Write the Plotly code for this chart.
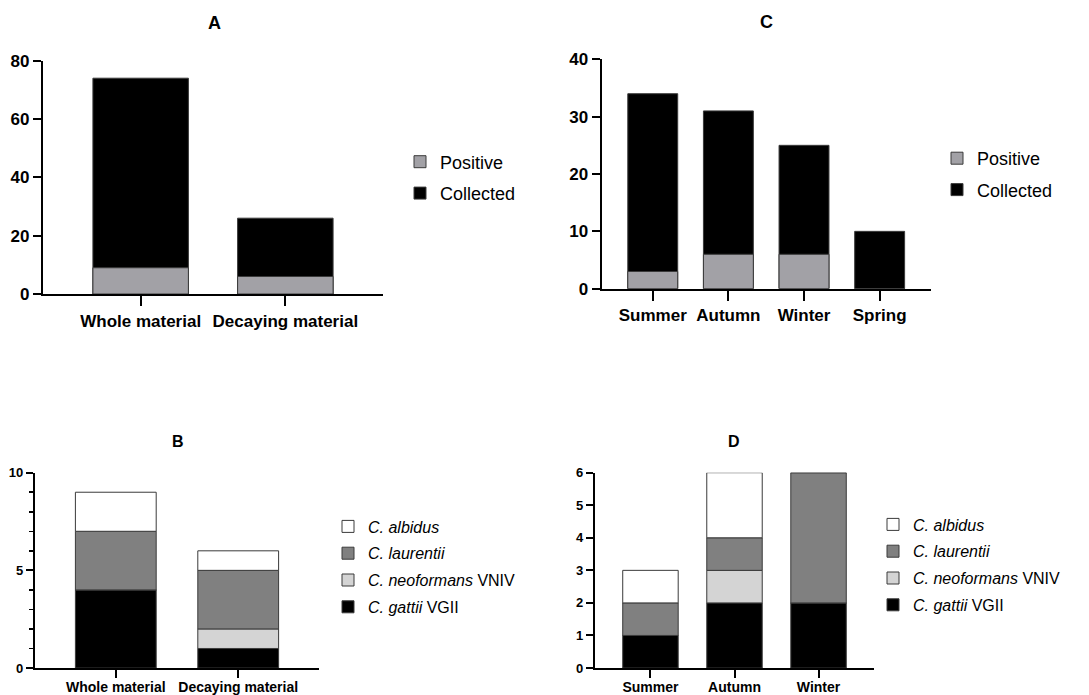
import numpy as np
import plotly.graph_objects as go

W, H = 1089, 695

# ---------- data ----------
material_cats = ["Whole material", "Decaying material"]
material_collected = [74, 26]
material_positive = [9, 6]

season_cats = ["Summer", "Autumn", "Winter", "Spring"]
season_collected = [34, 31, 25, 10]
season_positive = [3, 6, 6, 0]

species_keys = ["gattii", "neoformans", "laurentii", "albidus"]
species_names = ["<i>C. gattii</i> VGII", "<i>C. neoformans</i> VNIV",
                 "<i>C. laurentii</i>", "<i>C. albidus</i>"]
species_colors = ["#000000", "#d4d4d4", "#808080", "#ffffff"]

material_species = {
    "gattii": [4, 1],
    "neoformans": [0, 1],
    "laurentii": [3, 3],
    "albidus": [2, 1],
}
season_species_cats = ["Summer", "Autumn", "Winter"]
season_species = {
    "gattii": [1, 2, 2],
    "neoformans": [0, 1, 0],
    "laurentii": [1, 1, 4],
    "albidus": [1, 2, 0],
}

FONT = "Liberation Sans, Arial, sans-serif"
POS_COLOR = "#a2a1a6"
EDGE = "#3a3a3a"

fig = go.Figure()

# ---------- panel A ----------
fig.add_trace(go.Bar(x=material_cats, y=material_collected, name="Collected",
                     marker=dict(color="#000000", line=dict(color=EDGE, width=1)),
                     width=0.66, xaxis="x", yaxis="y", legend="legend",
                     legendgroup="a1", legendrank=2))
fig.add_trace(go.Bar(x=material_cats, y=material_positive, name="Positive",
                     marker=dict(color=POS_COLOR, line=dict(color=EDGE, width=1)),
                     width=0.66, xaxis="x", yaxis="y", legend="legend",
                     legendgroup="a2", legendrank=1))

# ---------- panel C ----------
fig.add_trace(go.Bar(x=season_cats, y=season_collected, name="Collected",
                     marker=dict(color="#000000", line=dict(color=EDGE, width=1)),
                     width=0.66, xaxis="x2", yaxis="y2", legend="legend2",
                     legendgroup="c1", legendrank=2))
fig.add_trace(go.Bar(x=season_cats, y=season_positive, name="Positive",
                     marker=dict(color=POS_COLOR, line=dict(color=EDGE, width=1)),
                     width=0.66, xaxis="x2", yaxis="y2", legend="legend2",
                     legendgroup="c2", legendrank=1))

# ---------- stacked panels B and D ----------
def add_stack(cats, data, xa, ya, leg, prefix):
    base = np.zeros(len(cats))
    n = len(species_keys)
    for i, k in enumerate(species_keys):
        vals = np.array(data[k], dtype=float)
        fig.add_trace(go.Bar(x=cats, y=vals, base=base.copy(), name=species_names[i],
                             marker=dict(color=species_colors[i],
                                         line=dict(color=EDGE, width=1)),
                             width=0.66, xaxis=xa, yaxis=ya, legend=leg,
                             legendgroup=prefix + k, legendrank=n - i))
        base = base + vals

add_stack(material_cats, material_species, "x3", "y3", "legend3", "b")
add_stack(season_species_cats, season_species, "x4", "y4", "legend4", "d")


def fx(p):
    return p / W


def fy(p):
    return 1 - p / H


def px_x(a, b):
    return [fx(a), fx(b)]


def px_y(top, bottom):
    return [fy(bottom), fy(top)]


axis_common = dict(showline=True, linecolor="#000000", linewidth=2.2,
                   ticks="outside", tickwidth=2, tickcolor="#000000",
                   showgrid=False, zeroline=False, fixedrange=True,
                   automargin=False)


def xaxis(domain, anchor, rng, size, tlen, standoff=0):
    return dict(axis_common, domain=domain, anchor=anchor, range=rng, ticklen=tlen,
                ticklabelstandoff=standoff,
                tickfont=dict(family=FONT, size=size, color="#000000", weight="bold"))


def yaxis(domain, anchor, rng, dtick, size, tlen, minor=None):
    d = dict(axis_common, domain=domain, anchor=anchor, range=rng, dtick=dtick,
             ticklen=tlen, tick0=0,
             tickfont=dict(family=FONT, size=size, color="#000000", weight="bold"))
    if minor:
        d["minor"] = minor
    return d


def legend(x, y, size, gap):
    return dict(x=fx(x), y=fy(y), xanchor="left", yanchor="middle",
                traceorder="grouped", tracegroupgap=gap,
                bgcolor="rgba(0,0,0,0)",
                font=dict(family=FONT, size=size, color="#000000"))


fig.update_layout(
    width=W, height=H,
    margin=dict(l=0, r=0, t=0, b=0, autoexpand=False),
    paper_bgcolor="#ffffff", plot_bgcolor="#ffffff",
    barmode="overlay",
    font=dict(family=FONT, color="#000000"),
    xaxis=xaxis(px_x(43, 383), "y", [-0.675, 1.675], 17, 10),
    yaxis=yaxis(px_y(60.7, 294), "x", [0, 80], 20, 17, 8),
    xaxis2=xaxis(px_x(601.7, 930.7), "y2", [-0.675, 3.675], 17, 10),
    yaxis2=yaxis(px_y(59.3, 288.7), "x2", [0, 40], 10, 17, 8),
    xaxis3=xaxis(px_x(35, 319), "y3", [-0.66, 1.66], 14, 8, -3),
    yaxis3=yaxis(px_y(472.7, 668), "x3", [0, 10], 5, 13, 7,
                 minor=dict(dtick=1, ticks="outside", ticklen=4, tickwidth=1.5,
                            tickcolor="#000000")),
    xaxis4=xaxis(px_x(595, 874), "y4", [-0.66, 2.66], 14, 8, -3),
    yaxis4=yaxis(px_y(472.7, 668), "x4", [0, 6], 1, 13, 7),
    legend=legend(400, 177.5, 18, 5),
    legend2=legend(937, 174, 18, 5),
    legend3=legend(328, 567, 16, 3),
    legend4=legend(873, 565, 16, 3),
)

titles = [("A", 214, 23, 18), ("C", 766, 22, 18), ("B", 178, 441, 16), ("D", 734, 441, 16)]
for t, x, y, s in titles:
    fig.add_annotation(text="<b>%s</b>" % t, x=fx(x), y=fy(y), xref="paper",
                       yref="paper", showarrow=False, xanchor="center", yanchor="middle",
                       font=dict(family=FONT, size=s, color="#000000"))

fig.write_html("out.html",
               config={"displayModeBar": False, "staticPlot": True},
               post_script="document.body.style.margin='0';"
                           "document.body.style.overflow='hidden';")
